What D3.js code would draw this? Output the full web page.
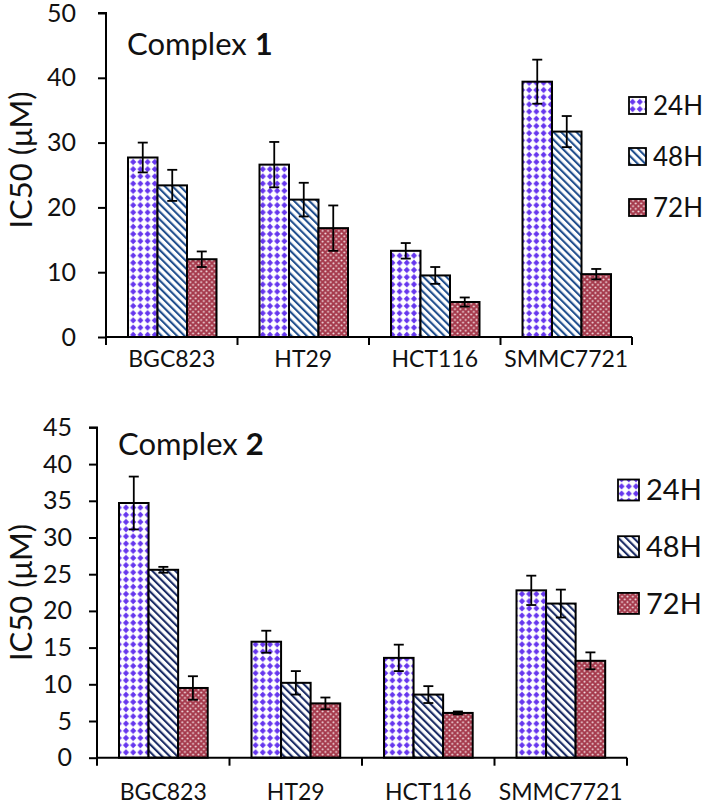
<!DOCTYPE html>
<html>
<head>
<meta charset="utf-8">
<script src="https://cdn.jsdelivr.net/npm/d3@7"></script>
<style>
  html, body { margin: 0; padding: 0; background: #fff; }
  svg { display: block; }
  text { font-family: Lato, "Open Sans", sans-serif; fill: #111; }
</style>
</head>
<body>
<div id="chart"></div>
<script>
// ---------- data ----------
const categories = ["BGC823", "HT29", "HCT116", "SMMC7721"];
const seriesNames = ["24H", "48H", "72H"];

const complex1_24H = [27.7, 26.6, 13.3, 39.4];
const complex1_48H = [23.4, 21.2, 9.5, 31.7];
const complex1_72H = [12.0, 16.8, 5.4, 9.7];
const complex1_err24H = [2.3, 3.5, 1.2, 3.4];
const complex1_err48H = [2.4, 2.6, 1.3, 2.4];
const complex1_err72H = [1.2, 3.5, 0.7, 0.8];

const complex2_24H = [34.7, 15.8, 13.6, 22.8];
const complex2_48H = [25.6, 10.2, 8.6, 21.0];
const complex2_72H = [9.5, 7.4, 6.1, 13.2];
const complex2_err24H = [3.6, 1.5, 1.8, 2.0];
const complex2_err48H = [0.4, 1.6, 1.15, 1.9];
const complex2_err72H = [1.6, 0.8, 0.2, 1.15];

const yTicks1 = [0, 10, 20, 30, 40, 50];
const yTicks2 = [0, 5, 10, 15, 20, 25, 30, 35, 40, 45];

// ---------- svg ----------
const W = 707, H = 804;
const svg = d3.select("#chart").append("svg").attr("width", W).attr("height", H);
const defs = svg.append("defs");

function makePatterns(suffix, stripeColor) {
  // 24H: purple diamonds on white
  const p1 = defs.append("pattern").attr("id", "p24" + suffix)
    .attr("patternUnits", "userSpaceOnUse").attr("width", 7.2).attr("height", 7.2);
  p1.append("rect").attr("width", 7.2).attr("height", 7.2).attr("fill", "#fff");
  p1.append("path").attr("d", "M3.6,0.5 L6.7,3.6 L3.6,6.7 L0.5,3.6 Z").attr("fill", "#6636ee");
  // 48H: "\" diagonal stripes
  const p2 = defs.append("pattern").attr("id", "p48" + suffix)
    .attr("patternUnits", "userSpaceOnUse").attr("width", 5.4).attr("height", 5.4)
    .attr("patternTransform", "rotate(-45)");
  p2.append("rect").attr("width", 5.4).attr("height", 5.4).attr("fill", "#fff");
  p2.append("rect").attr("x", 0).attr("width", 2.1).attr("height", 5.4).attr("fill", stripeColor);
  // 72H: maroon with light dots
  const p3 = defs.append("pattern").attr("id", "p72" + suffix)
    .attr("patternUnits", "userSpaceOnUse").attr("width", 5.4).attr("height", 5.4);
  p3.append("rect").attr("width", 5.4).attr("height", 5.4).attr("fill", "#a53a4c");
  p3.append("circle").attr("cx", 1.35).attr("cy", 1.35).attr("r", 1.0).attr("fill", "#f6e4e7");
  p3.append("circle").attr("cx", 4.05).attr("cy", 4.05).attr("r", 1.0).attr("fill", "#f6e4e7");
}
makePatterns("a", "#214f8e");
makePatterns("b", "#1b2c66");

function panel(cfg) {
  const g = svg.append("g");
  const x0 = d3.scaleBand().domain(categories).range([cfg.left, cfg.right]).padding(0);
  const bw = x0.bandwidth();
  const x1 = d3.scaleBand().domain(seriesNames).range([cfg.groupOff, cfg.groupOff + cfg.groupW]).padding(0);
  const y = d3.scaleLinear().domain([0, cfg.ymax]).range([cfg.y0, cfg.ytop]);

  const rows = [];
  seriesNames.forEach((s, si) => {
    categories.forEach((c, ci) => {
      rows.push({ cat: c, s: s, v: cfg.values[si][ci], e: cfg.errs[si][ci] });
    });
  });

  // bars
  g.selectAll("rect.bar").data(rows).join("rect")
    .attr("class", "bar")
    .attr("x", d => x0(d.cat) + x1(d.s))
    .attr("y", d => y(d.v))
    .attr("width", x1.bandwidth())
    .attr("height", d => y(0) - y(d.v))
    .attr("fill", d => "url(#p" + d.s.replace("H", "") + cfg.suffix + ")")
    .attr("stroke", "#000").attr("stroke-width", 2);

  // error bars
  const eb = g.selectAll("g.err").data(rows).join("g").attr("class", "err")
    .attr("stroke", "#000").attr("stroke-width", 1.8);
  eb.append("line")
    .attr("x1", d => x0(d.cat) + x1(d.s) + x1.bandwidth() / 2)
    .attr("x2", d => x0(d.cat) + x1(d.s) + x1.bandwidth() / 2)
    .attr("y1", d => y(d.v + d.e)).attr("y2", d => y(d.v - d.e));
  [1, -1].forEach(sign => {
    eb.append("line")
      .attr("x1", d => x0(d.cat) + x1(d.s) + x1.bandwidth() / 2 - 5)
      .attr("x2", d => x0(d.cat) + x1(d.s) + x1.bandwidth() / 2 + 5)
      .attr("y1", d => y(d.v + sign * d.e)).attr("y2", d => y(d.v + sign * d.e));
  });

  // y axis
  const ya = d3.axisLeft(y).tickValues(cfg.yTicks).tickSize(8).tickPadding(cfg.tickPad).tickFormat(d3.format("d"));
  const yg = g.append("g").attr("transform", `translate(${cfg.left},0)`).call(ya);
  yg.select(".domain").attr("stroke", "#000").attr("stroke-width", 2)
    .attr("d", `M0,${cfg.y0}V${cfg.ytop}H-8`);
  yg.selectAll(".tick line").attr("stroke", "#000").attr("stroke-width", 2);
  yg.selectAll(".tick text").attr("font-size", cfg.tickFont).attr("fill", "#111")
    .attr("font-family", "Lato, 'Open Sans', sans-serif");

  // x axis: line + ticks at band boundaries
  const xg = g.append("g");
  xg.append("line").attr("x1", cfg.left).attr("x2", cfg.right).attr("y1", cfg.y0).attr("y2", cfg.y0)
    .attr("stroke", "#000").attr("stroke-width", 2);
  const bounds = categories.map(c => x0(c)).concat([cfg.right]);
  xg.selectAll("line.xt").data(bounds).join("line").attr("class", "xt")
    .attr("x1", d => d).attr("x2", d => d).attr("y1", cfg.y0).attr("y2", cfg.y0 + 8)
    .attr("stroke", "#000").attr("stroke-width", 2);
  xg.selectAll("text.xl").data(categories).join("text").attr("class", "xl")
    .attr("x", d => x0(d) + bw / 2).attr("y", cfg.xLabelY)
    .attr("text-anchor", "middle").attr("font-size", cfg.xFont).text(d => d);

  // y title
  g.append("text").attr("transform", `translate(${cfg.titleX},${cfg.titleY}) rotate(-90)`)
    .attr("text-anchor", "middle").attr("dominant-baseline", "central")
    .attr("font-size", 31).text("IC50 (μM)");

  // complex label
  const t = g.append("text").attr("x", cfg.cx).attr("y", cfg.cy).attr("font-size", 31);
  t.append("tspan").text("Complex ");
  t.append("tspan").attr("font-weight", "bold").text(cfg.num);

  // legend
  const lg = g.selectAll("g.leg").data(seriesNames).join("g").attr("class", "leg")
    .attr("transform", (d, i) => `translate(${cfg.legX},${cfg.legY + i * cfg.legStep})`);
  lg.append("rect").attr("x", 0).attr("y", -cfg.legSq / 2).attr("width", cfg.legSq).attr("height", cfg.legSq)
    .attr("fill", d => "url(#p" + d.replace("H", "") + cfg.suffix + ")")
    .attr("stroke", "#000").attr("stroke-width", 1.8);
  lg.append("text").attr("x", cfg.legSq + 7).attr("y", 0).attr("dy", "0.35em")
    .attr("font-size", cfg.legFont).text(d => d);
}

panel({
  suffix: "a", left: 106, right: 632, y0: 337, ytop: 13, ymax: 50,
  groupOff: 22, groupW: 88.5, yTicks: yTicks1, tickPad: 22, tickFont: 25,
  values: [complex1_24H, complex1_48H, complex1_72H],
  errs: [complex1_err24H, complex1_err48H, complex1_err72H],
  xLabelY: 367, xFont: 23, titleX: 20, titleY: 160, cx: 127, cy: 55, num: "1",
  legX: 629, legY: 105.5, legStep: 51, legSq: 17, legFont: 26
});

panel({
  suffix: "b", left: 97, right: 627, y0: 757.7, ytop: 427.4, ymax: 45,
  groupOff: 22, groupW: 88.7, yTicks: yTicks2, tickPad: 17, tickFont: 25,
  values: [complex2_24H, complex2_48H, complex2_72H],
  errs: [complex2_err24H, complex2_err48H, complex2_err72H],
  xLabelY: 800, xFont: 23, titleX: 19.5, titleY: 592.5, cx: 118, cy: 455, num: "2",
  legX: 618, legY: 490, legStep: 56.7, legSq: 21, legFont: 29
});
</script>
</body>
</html>
